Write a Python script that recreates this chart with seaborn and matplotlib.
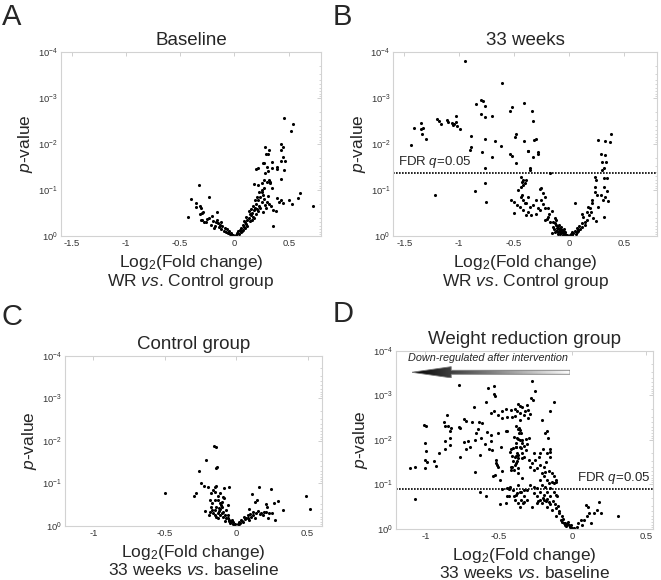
import numpy as np
import pandas as pd
import matplotlib
matplotlib.use("Agg")
import matplotlib.pyplot as plt
import seaborn as sns
from matplotlib.patches import Polygon
from matplotlib.ticker import LogLocator, NullFormatter

# punkty: (log2 fold change, -log10 p)
baseline_pts = [
    (0.46, 2.57), (0.54, 2.43), (0.52, 2.28), (0.43, 2.00), (0.45, 1.94), (0.43, 1.87), (0.45, 1.71),
    (0.47, 1.63), (0.43, 1.63), (0.46, 1.43), (0.43, 1.25), (0.28, 1.93), (0.29, 1.78), (0.31, 1.78),
    (0.32, 1.87), (0.26, 1.60), (0.27, 1.58), (0.22, 1.49), (0.20, 1.46), (0.30, 1.51), (0.28, 1.38),
    (0.31, 1.41), (0.27, 1.23), (0.25, 1.15), (0.30, 1.18), (0.32, 1.22), (0.33, 1.18), (0.35, 1.47),
    (0.35, 1.62), (0.39, 1.46), (0.39, 1.51), (0.35, 1.05), (0.33, 1.15), (0.22, 1.11), (0.25, 1.01),
    (0.18, 1.13), (0.27, 1.04), (0.25, 0.95), (0.39, 0.82), (0.41, 0.75), (0.43, 0.78), (0.45, 0.71),
    (0.50, 0.78), (0.53, 0.70), (0.60, 0.94), (0.59, 0.82), (0.72, 0.65), (0.36, 0.57), (0.34, 0.65),
    (0.38, 0.54), (0.36, 0.22),
    (-0.33, 1.10), (-0.40, 0.80), (-0.355, 0.71), (-0.355, 0.64), (-0.23, 0.86), (-0.32, 0.66),
    (-0.31, 0.62), (-0.43, 0.41), (-0.30, 0.50), (-0.29, 0.52), (-0.32, 0.48), (-0.16, 0.52),
    (-0.21, 0.43), (-0.23, 0.40), (-0.25, 0.37), (-0.30, 0.35), (-0.31, 0.34), (-0.28, 0.31),
    (-0.20, 0.33), (-0.17, 0.30), (-0.15, 0.28), (-0.13, 0.25), (-0.11, 0.22), (-0.09, 0.18),
    (-0.07, 0.15), (-0.05, 0.10), (-0.03, 0.07), (-0.01, 0.03), (-0.18, 0.22), (-0.14, 0.20),
    (-0.12, 0.15), (-0.10, 0.12), (-0.08, 0.09), (-0.06, 0.06), (-0.04, 0.04), (-0.02, 0.02),
    (-0.16, 0.35), (-0.12, 0.30), (-0.26, 0.30), (-0.22, 0.25), (-0.19, 0.18),
    (0.01, 0.03), (0.02, 0.06), (0.03, 0.10), (0.04, 0.05), (0.05, 0.14), (0.06, 0.18), (0.07, 0.12),
    (0.08, 0.24), (0.09, 0.20), (0.10, 0.30), (0.11, 0.26), (0.12, 0.35), (0.13, 0.40), (0.14, 0.32),
    (0.15, 0.45), (0.16, 0.50), (0.17, 0.42), (0.18, 0.56), (0.19, 0.62), (0.20, 0.70), (0.21, 0.58),
    (0.22, 0.78), (0.23, 0.66), (0.24, 0.85), (0.25, 0.74), (0.26, 0.90), (0.27, 0.80), (0.28, 0.68),
    (0.29, 0.60), (0.30, 0.75), (0.31, 0.88), (0.32, 0.70), (0.14, 0.48), (0.12, 0.22), (0.10, 0.18),
    (0.08, 0.14), (0.06, 0.08), (0.16, 0.36), (0.18, 0.40), (0.20, 0.48), (0.22, 0.55), (0.24, 0.60),
    (0.26, 0.52), (0.15, 0.58), (0.17, 0.66), (0.19, 0.78), (0.21, 0.86), (0.23, 0.95), (0.09, 0.32),
    (0.11, 0.42), (0.13, 0.55),
]

weeks33_pts = [
    (-0.947, 3.80), (-0.607, 3.34), (-0.80, 2.97), (-0.78, 2.93), (-0.85, 2.87), (-0.77, 2.84),
    (-0.80, 2.65), (-0.77, 2.59), (-0.70, 2.62), (-1.03, 2.62), (-1.20, 2.54), (-1.18, 2.51),
    (-1.17, 2.43), (-1.11, 2.52), (-1.10, 2.48), (-1.07, 2.47), (-1.05, 2.43), (-1.03, 2.48),
    (-1.06, 2.41), (-1.02, 2.40), (-0.99, 2.32), (-1.344, 2.46), (-1.33, 2.35), (-1.35, 2.34),
    (-1.41, 2.35), (-1.335, 2.21), (-1.30, 2.11), (-1.44, 1.98), (-0.894, 2.18), (-0.77, 2.12),
    (-0.67, 2.07), (-0.62, 1.96), (-0.70, 1.72), (-0.79, 1.83), (-0.90, 1.87), (-0.89, 1.93),
    (-0.77, 1.48), (-0.537, 2.72), (-0.52, 2.81), (-0.415, 2.90), (-0.48, 2.21), (-0.49, 2.15),
    (-0.537, 1.78), (-0.52, 1.75), (-0.485, 1.58), (-0.375, 1.86), (-1.22, 0.89), (-0.77, 1.15),
    (-0.855, 0.97), (-0.76, 0.75), (-0.506, 0.51), (-0.436, 1.29), (-0.43, 1.18), (-0.42, 1.11),
    (-0.39, 1.23), (-0.436, 1.07), (-0.466, 1.00), (-0.43, 0.89), (-0.527, 0.78), (-0.50, 0.75),
    (-0.47, 0.67), (-0.45, 0.64), (-0.42, 0.57), (-0.405, 0.71), (-0.375, 0.85), (-0.34, 2.72),
    (-0.33, 2.50), (-0.41, 2.07), (-0.32, 2.09), (-0.305, 2.11), (-0.37, 1.86), (-0.283, 1.82),
    (-0.28, 1.78), (-0.33, 1.71), (-0.36, 1.48), (-0.36, 1.43), (-0.17, 1.38),
    (0.26, 2.09), (0.326, 2.07), (0.375, 2.05), (0.38, 2.22), (0.29, 1.79), (0.326, 1.76),
    (0.298, 1.62), (0.335, 1.61), (0.313, 1.48), (0.298, 1.43), (0.231, 1.29), (0.243, 1.22),
    (0.32, 1.26), (0.347, 1.26), (0.313, 1.07), (0.344, 0.98), (0.33, 0.85), (0.307, 0.78),
    (0.35, 0.77), (0.286, 0.89), (0.231, 1.07), (0.237, 0.96), (0.252, 0.89), (0.259, 0.64),
    (0.313, 0.42), (0.243, 0.33), (0.05, 0.71), (0.115, 0.49), (0.13, 0.42), (0.16, 0.53),
    (0.176, 0.64), (0.19, 0.60), (0.206, 0.71), (0.21, 0.78), (0.167, 0.35), (0.145, 0.31),
    (0.115, 0.20), (0.084, 0.13), (0.069, 0.09), (0.039, 0.06), (0.023, 0.02),
    (-0.42, 1.22), (-0.405, 1.15), (-0.436, 0.85), (-0.42, 0.78), (-0.39, 0.71), (-0.36, 0.64),
    (-0.329, 0.67), (-0.268, 1.02), (-0.252, 1.04), (-0.237, 0.93), (-0.252, 0.78), (-0.222, 0.85),
    (-0.298, 0.49), (-0.375, 0.53), (-0.39, 0.46), (-0.344, 0.45), (-0.268, 0.57), (-0.222, 0.60),
    (-0.19, 0.60), (-0.222, 0.35), (-0.19, 0.42), (-0.176, 0.31), (-0.13, 0.28), (-0.115, 0.35),
    (-0.145, 0.20), (-0.099, 0.17), (-0.069, 0.13), (-0.053, 0.06), (-0.038, 0.04), (-0.13, 0.09),
    (-0.16, 0.06), (-0.099, 0.04), (-0.12, 0.25), (-0.11, 0.18), (-0.10, 0.22), (-0.09, 0.12),
    (-0.08, 0.15), (-0.07, 0.08), (-0.06, 0.10), (-0.05, 0.05), (-0.04, 0.08), (-0.03, 0.03),
    (-0.02, 0.02), (-0.01, 0.01), (0.0, 0.0), (0.01, 0.02), (0.02, 0.04), (-0.14, 0.15),
    (-0.12, 0.12), (-0.10, 0.08), (-0.08, 0.05), (-0.06, 0.03), (-0.15, 0.30), (-0.13, 0.40),
    (-0.11, 0.10), (-0.09, 0.25), (-0.07, 0.20), (-0.05, 0.15), (0.03, 0.08), (0.05, 0.12),
    (0.07, 0.18), (0.09, 0.22), (0.10, 0.15), (0.12, 0.28), (0.14, 0.25), (0.18, 0.45),
    (0.20, 0.52), (0.22, 0.40), (0.06, 0.05), (0.08, 0.10), (-0.20, 0.38), (-0.18, 0.48),
    (-0.16, 0.55), (-0.24, 0.70), (-0.28, 0.62), (-0.30, 0.78),
]

control_pts = [
    (-0.158, 1.88), (-0.142, 1.85), (-0.212, 1.56), (-0.135, 1.38), (-0.14, 1.37), (-0.258, 1.28),
    (-0.244, 1.00), (-0.228, 0.95), (-0.198, 0.92), (-0.149, 0.92), (-0.14, 0.95), (-0.082, 0.89),
    (-0.047, 0.92), (-0.298, 0.71), (-0.279, 0.77), (-0.50, 0.77), (-0.163, 0.85), (-0.174, 0.77),
    (-0.151, 0.81), (-0.116, 0.77), (-0.093, 0.69), (-0.086, 0.65), (-0.128, 0.61), (-0.116, 0.53),
    (-0.098, 0.57), (-0.14, 0.45), (-0.105, 0.49), (-0.167, 0.53), (-0.186, 0.61), (-0.174, 0.45),
    (-0.151, 0.38), (-0.216, 0.35), (-0.186, 0.34), (-0.128, 0.30), (-0.093, 0.34), (-0.07, 0.38),
    (-0.058, 0.49), (-0.14, 0.22), (-0.116, 0.26), (-0.093, 0.22), (-0.07, 0.18), (-0.047, 0.14),
    (-0.035, 0.10), (-0.023, 0.06), (-0.012, 0.02), (-0.058, 0.26), (-0.16, 0.30), (-0.15, 0.26),
    (-0.13, 0.20), (-0.12, 0.35), (-0.11, 0.40), (-0.10, 0.30), (-0.08, 0.25), (-0.06, 0.20),
    (-0.05, 0.12), (-0.04, 0.08), (-0.03, 0.15), (-0.02, 0.10), (-0.01, 0.05), (-0.17, 0.38),
    (-0.19, 0.26), (-0.15, 0.60), (-0.13, 0.70), (-0.10, 0.45), (-0.08, 0.12), (-0.12, 0.42),
    (0.109, 0.75), (0.144, 0.61), (0.135, 0.57), (0.163, 0.92), (0.244, 0.88), (0.209, 0.51),
    (0.216, 0.45), (0.193, 0.34), (0.232, 0.31), (0.267, 0.55), (0.295, 0.58), (0.328, 0.37),
    (0.49, 0.70), (0.514, 0.40), (0.093, 0.40), (0.116, 0.34), (0.081, 0.26), (0.058, 0.22),
    (0.035, 0.14), (0.023, 0.10), (0.011, 0.06), (0.07, 0.18), (0.105, 0.22), (0.14, 0.30),
    (0.174, 0.31), (0.02, 0.04), (0.03, 0.08), (0.04, 0.12), (0.05, 0.10), (0.06, 0.16),
    (0.08, 0.20), (0.09, 0.15), (0.10, 0.28), (0.12, 0.25), (0.13, 0.20), (0.15, 0.35),
    (0.17, 0.28), (0.19, 0.25), (0.21, 0.33), (0.22, 0.20), (0.25, 0.30), (0.27, 0.14),
]

wr_pts = [
    (-0.772, 3.24), (-0.575, 3.16), (-0.53, 3.22), (-0.534, 3.03), (-0.523, 2.99), (-0.585, 2.85),
    (-0.667, 2.73), (-0.553, 2.61), (-0.532, 2.66), (-0.505, 2.55), (-0.477, 2.65), (-0.45, 2.69),
    (-0.445, 2.52), (-0.475, 2.50), (-0.418, 2.67), (-0.388, 2.69), (-0.37, 2.80), (-0.354, 2.76),
    (-0.342, 2.73), (-0.852, 2.55), (-0.87, 2.40), (-0.868, 2.32), (-0.847, 2.31), (-0.822, 2.26),
    (-0.829, 2.19), (-0.738, 2.46), (-0.724, 2.43), (-0.681, 2.40), (-0.633, 2.40), (-0.614, 2.38),
    (-0.64, 2.24), (-0.578, 2.17), (-0.658, 2.15), (-1.007, 2.33), (-0.998, 2.32), (-0.772, 2.29),
    (-0.767, 2.27), (-0.834, 2.05), (-0.868, 1.98), (-0.738, 1.95), (-0.712, 1.97), (-0.664, 1.99),
    (-0.623, 2.04), (-0.553, 1.97), (-0.553, 2.10), (-0.503, 2.15), (-0.452, 2.19), (-1.0, 1.93),
    (-0.998, 1.75), (-1.003, 1.55), (-0.991, 1.51), (-1.0, 1.38), (-0.941, 1.53), (-0.925, 1.42),
    (-0.907, 1.71), (-0.868, 1.79), (-0.834, 1.89), (-0.763, 1.62), (-0.722, 1.80), (-0.694, 1.85),
    (-0.626, 1.66), (-0.594, 1.91), (-0.566, 1.79), (-0.548, 1.78), (-0.664, 1.29), (-0.521, 1.55),
    (-0.518, 1.49), (-0.514, 1.44), (-0.503, 1.39), (-0.525, 1.21), (-0.537, 1.18), (-0.491, 1.09),
    (-0.475, 1.30), (-0.484, 1.83), (-0.425, 1.74), (-0.418, 1.79), (-0.441, 2.21), (-0.416, 1.40),
    (-0.416, 1.33), (-0.409, 1.64), (-0.388, 1.44), (-0.381, 1.64), (-0.381, 1.94), (-0.379, 1.52),
    (-0.37, 1.59), (-0.377, 1.71), (-0.386, 1.85), (-0.374, 2.04), (-0.361, 2.16), (-0.363, 2.26),
    (-0.347, 2.15), (-0.354, 2.00), (-0.342, 1.93), (-0.349, 1.81), (-0.34, 1.70), (-0.331, 1.62),
    (-0.366, 1.25), (-0.342, 1.14), (-0.366, 1.36), (-0.431, 0.91), (-0.423, 0.94), (-0.479, 0.90),
    (-0.628, 0.82), (-0.589, 0.74), (-1.073, 0.67), (-0.491, 0.55), (-0.45, 0.59), (-0.441, 0.74),
    (-0.395, 0.74), (-0.381, 0.76), (-0.366, 0.99), (-0.347, 0.83), (-0.331, 0.73), (-0.349, 0.65),
    (-0.336, 0.58), (-0.354, 0.50), (-1.107, 1.38), (-1.071, 1.39),
    (-0.272, 3.32), (-0.256, 3.09), (-0.281, 2.94), (-0.27, 2.90), (-0.126, 2.86), (-0.153, 2.64),
    (-0.203, 2.45), (-0.308, 2.79), (-0.301, 2.68), (-0.32, 2.64), (-0.331, 2.56), (-0.29, 2.58),
    (-0.304, 2.49), (-0.377, 2.64), (-0.359, 2.60), (-0.388, 2.54), (-0.411, 2.52), (-0.359, 2.45),
    (-0.382, 2.31), (-0.372, 2.24), (-0.354, 2.22), (-0.395, 2.07), (-0.366, 2.03), (-0.342, 2.00),
    (-0.313, 2.02), (-0.297, 2.05), (-0.331, 1.87), (-0.308, 1.91), (-0.354, 1.83), (-0.382, 1.84),
    (-0.404, 1.81), (-0.313, 1.78), (-0.388, 1.62), (-0.366, 1.66), (-0.342, 1.59), (-0.40, 1.53),
    (-0.384, 1.48), (-0.411, 1.39), (-0.395, 1.33),
    (-0.183, 2.15), (-0.171, 2.19), (-0.164, 2.04), (-0.153, 1.79), (-0.149, 1.74), (-0.171, 1.70),
    (-0.149, 1.62), (-0.176, 1.51), (-0.194, 1.40), (-0.217, 1.44), (-0.24, 1.36), (-0.263, 1.33),
    (-0.274, 1.48), (-0.251, 1.55), (-0.229, 1.62), (-0.217, 1.70), (-0.199, 1.79), (-0.263, 1.70),
    (-0.286, 1.40), (-0.297, 1.55), (-0.205, 1.25), (-0.183, 1.29), (-0.16, 1.31), (-0.137, 1.25),
    (-0.126, 1.18), (-0.114, 1.10), (-0.108, 1.06), (-0.137, 1.06), (-0.126, 1.03), (-0.171, 1.10),
    (-0.16, 1.03), (-0.194, 1.18), (-0.217, 1.10), (-0.205, 0.99), (-0.183, 0.95), (-0.149, 0.91),
    (-0.171, 0.84), (-0.126, 0.84), (-0.114, 0.76), (-0.103, 0.73), (-0.149, 0.73), (-0.194, 0.76),
    (-0.217, 0.84), (-0.24, 0.91), (-0.263, 0.95), (-0.286, 0.99), (-0.24, 0.73), (-0.263, 0.80),
    (-0.308, 0.88), (-0.331, 0.88), (-0.354, 0.84), (-0.377, 0.80), (-0.40, 0.88), (-0.432, 0.89),
    (-0.445, 0.91), (-0.432, 0.73), (-0.388, 0.65), (-0.366, 0.58), (-0.331, 0.61), (-0.308, 0.65),
    (-0.274, 0.50), (-0.24, 0.58), (-0.205, 0.58), (-0.171, 0.50), (-0.137, 0.43), (-0.114, 0.47),
    (-0.092, 0.35), (-0.114, 0.28), (-0.08, 0.20), (-0.068, 0.16), (-0.058, 0.14), (-0.046, 0.13),
    (-0.034, 0.11), (-0.012, 0.05), (0.0, 0.02), (0.011, 0.02), (-0.20, 0.70), (-0.19, 0.65),
    (-0.18, 0.62), (-0.17, 0.68), (-0.16, 0.60), (-0.15, 0.55), (-0.22, 0.66), (-0.23, 0.62),
    (-0.13, 0.62), (-0.12, 0.56), (-0.10, 0.52), (-0.09, 0.40), (-0.07, 0.30), (-0.06, 0.22),
    (-0.05, 0.10), (-0.04, 0.06), (-0.03, 0.15), (-0.02, 0.08), (-0.01, 0.10),
    (0.057, 0.20), (0.079, 0.20), (0.098, 0.28), (0.107, 0.50), (0.091, 0.54), (0.114, 0.35),
    (0.125, 0.14), (0.148, 0.35), (0.171, 0.43), (0.182, 0.61), (0.194, 0.35), (0.308, 0.28),
    (0.068, 0.08), (0.039, 0.13), (0.03, 0.05),
]

# progi FDR (p-value)
fdr_p_33weeks = 0.042
fdr_p_wr = 0.126

panel_titles = ["Baseline", "33 weeks", "Control group", "Weight reduction group"]
panel_letters = ["A", "B", "C", "D"]
xlabels = [
    "Log$_2$(Fold change)\nWR $\\mathit{vs}$. Control group",
    "Log$_2$(Fold change)\nWR $\\mathit{vs}$. Control group",
    "Log$_2$(Fold change)\n33 weeks $\\mathit{vs}$. baseline",
    "Log$_2$(Fold change)\n33 weeks $\\mathit{vs}$. baseline",
]
xticks_ab = [-1.5, -1, -0.5, 0, 0.5]
xticklabels_ab = ["-1.5", "-1", "-0.5", "0", "0.5"]
xticks_cd = [-1, -0.5, 0, 0.5]
xticklabels_cd = ["-1", "-0.5", "0", "0.5"]


def to_frame(points):
    df = pd.DataFrame(points, columns=["log2fc", "nlp"])
    df["p"] = 10.0 ** (-df["nlp"])
    return df


def style_axes(ax, xlim, xticks, xticklabels):
    ax.set_yscale("log")
    ax.set_ylim(1, 1e-4)
    ax.set_xlim(*xlim)
    ax.set_xticks(xticks)
    ax.set_xticklabels(xticklabels)
    ax.set_yticks([1, 1e-1, 1e-2, 1e-3, 1e-4])
    ax.yaxis.set_minor_locator(LogLocator(base=10, subs=np.arange(2, 10)))
    ax.yaxis.set_minor_formatter(NullFormatter())
    for sp in ax.spines.values():
        sp.set_color("#d2d2d2")
        sp.set_linewidth(0.8)
    ax.tick_params(which="both", direction="in", top=True, right=True,
                   color="#c8c8c8", labelsize=6.8, labelcolor="#333333", pad=2)
    ax.tick_params(which="major", length=3, width=0.6)
    ax.tick_params(which="minor", length=1.6, width=0.5)
    ax.set_ylabel("$p$-value", fontsize=12.5, labelpad=2)
    ax.set_xlabel("")


sns.set_style("white")
plt.rcParams["font.family"] = ["Liberation Sans", "DejaVu Sans"]
plt.rcParams["mathtext.fontset"] = "custom"
plt.rcParams["mathtext.rm"] = "Liberation Sans"
plt.rcParams["mathtext.it"] = "Liberation Sans:italic"
plt.rcParams["mathtext.bf"] = "Liberation Sans:bold"

fig = plt.figure(figsize=(6.61, 5.8), dpi=100)
axA = fig.add_axes([0.092, 0.593, 0.394, 0.317])
axB = fig.add_axes([0.595, 0.593, 0.399, 0.317])
axC = fig.add_axes([0.098, 0.093, 0.389, 0.294])
axD = fig.add_axes([0.599, 0.088, 0.389, 0.307])

panels = [
    (axA, baseline_pts, (-1.6, 0.8), xticks_ab, xticklabels_ab),
    (axB, weeks33_pts, (-1.6, 0.8), xticks_ab, xticklabels_ab),
    (axC, control_pts, (-1.2, 0.6), xticks_cd, xticklabels_cd),
    (axD, wr_pts, (-1.2, 0.55), xticks_cd, xticklabels_cd),
]

for i, (ax, pts, xlim, xt, xtl) in enumerate(panels):
    df = to_frame(pts)
    sns.scatterplot(data=df, x="log2fc", y="p", ax=ax, color="black", s=5,
                    linewidth=0, legend=False)
    style_axes(ax, xlim, xt, xtl)
    ax.set_title(panel_titles[i], fontsize=13.5, pad=5)
    ax.annotate(xlabels[i], xy=(0.5, 0), xycoords="axes fraction", xytext=(0, -12),
                textcoords="offset points", ha="center", va="top",
                fontsize=12.5, linespacing=1.05)

# linie FDR
axB.axhline(fdr_p_33weeks, color="black", linestyle=(0, (1, 0.8)), linewidth=1.2)
axB.text(-1.555, 0.024, "FDR $q$=0.05", fontsize=9.5, ha="left", va="center")
axD.axhline(fdr_p_wr, color="black", linestyle=(0, (1, 0.8)), linewidth=1.2)
axD.text(0.03, 0.072, "FDR $q$=0.05", fontsize=9.5, ha="left", va="center")

# strzalka z gradientem w panelu D
arr_ax = axD.inset_axes([0.061, 0.845, 0.616, 0.07])
arr_ax.set_xlim(0, 1)
arr_ax.set_ylim(0, 1)
arr_ax.axis("off")
verts = [(0, 0.5), (0.25, 0.95), (0.25, 0.66), (1, 0.66), (1, 0.34), (0.25, 0.34), (0.25, 0.05)]
clip = Polygon(verts, closed=True, facecolor="none", edgecolor="none")
arr_ax.add_patch(clip)
grad = np.linspace(0, 1, 256).reshape(1, -1)
im = arr_ax.imshow(grad, cmap="gray", extent=(0, 1, 0, 1), aspect="auto", vmin=0, vmax=1)
im.set_clip_path(clip)
arr_ax.add_patch(Polygon(verts, closed=True, facecolor="none", edgecolor="#7a7a7a", linewidth=0.6))
axD.text(0.358, 0.958, "Down-regulated after intervention", transform=axD.transAxes,
         ha="center", va="center", fontsize=7.8, style="italic")

# litery paneli
fig.text(0.003, 0.995, "A", fontsize=21, ha="left", va="top")
fig.text(0.503, 0.995, "B", fontsize=21, ha="left", va="top")
fig.text(0.003, 0.478, "C", fontsize=21, ha="left", va="top")
fig.text(0.503, 0.482, "D", fontsize=21, ha="left", va="top")

fig.savefig("out.png", dpi=100)
